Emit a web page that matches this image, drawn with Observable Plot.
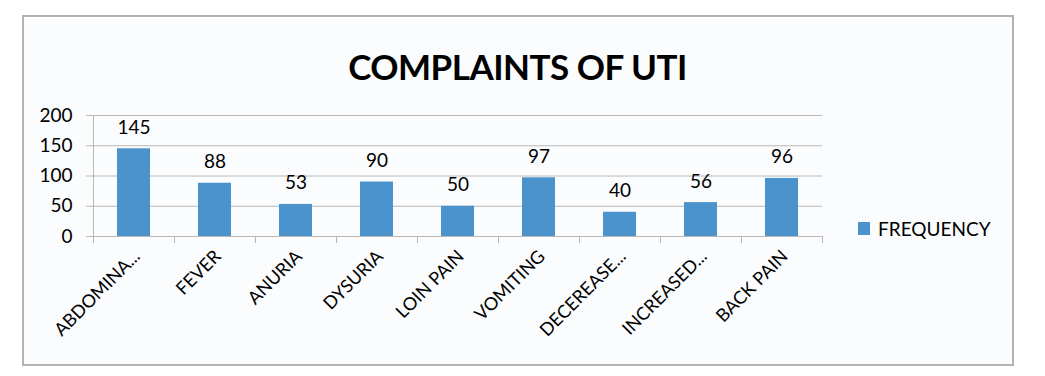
<!DOCTYPE html>
<html>
<head>
<meta charset="utf-8">
<script src="https://cdn.jsdelivr.net/npm/d3@7"></script>
<script src="https://cdn.jsdelivr.net/npm/@observablehq/plot@0.6"></script>
<style>
  body { margin: 0; background: #ffffff; }
  #wrap { position: relative; width: 1045px; height: 376px; overflow: hidden; font-family: Lato, "Open Sans", sans-serif; }
  #box { position: absolute; left: 22px; top: 15px; width: 988px; height: 347px; border: 2px solid #b3b3b3; background: #fbfcfe; }
  #title { position: absolute; left: 0; top: 46px; width: 1035px; text-align: center; font-size: 35px; font-weight: 700; line-height: 40px; color: #000; letter-spacing: -0.5px; }
  #chart { position: absolute; left: 0; top: 95px; }
  #legend { position: absolute; left: 858px; top: 217px; display: flex; align-items: center; font-size: 19px; color: #000; }
  #legend .sw { width: 12px; height: 13px; background: #4a93cd; margin-right: 8px; }
</style>
</head>
<body>
<div id="wrap">
  <div id="box"></div>
  <div id="title">COMPLAINTS OF UTI</div>
  <div id="chart"></div>
  <div id="legend"><div class="sw"></div><span id="legtext"></span></div>
</div>
<script>
const categories = ["ABDOMINA...", "FEVER", "ANURIA", "DYSURIA", "LOIN PAIN", "VOMITING", "DECEREASE...", "INCREASED...", "BACK PAIN"];
const frequency = [145, 88, 53, 90, 50, 97, 40, 56, 96];
const yTicks = [0, 50, 100, 150, 200];
const seriesName = "FREQUENCY";

const data = categories.map((c, i) => ({category: c, value: frequency[i]}));

const W = 1045, H = 268;
const mL = 93, mR = 223, mT = 20, mB = 127;
const step = (W - mL - mR) / categories.length;
const innerH = H - mT - mB;
const barColor = "#4a93cd";
const gridColor = "#b8b8b8";

const chart = Plot.plot({
  width: W,
  height: H,
  marginLeft: mL,
  marginRight: mR,
  marginTop: mT,
  marginBottom: mB,
  style: {background: "transparent", fontFamily: "Lato, 'Open Sans', sans-serif", fontSize: "18px", color: "#000"},
  x: {domain: categories, paddingInner: 0.59, paddingOuter: 0.295, label: null},
  y: {domain: [0, 200], label: null},
  marks: [
    Plot.gridY(yTicks, {stroke: gridColor, strokeOpacity: 1}),
    Plot.axisY(yTicks, {tickSize: 7, tickPadding: 14, stroke: gridColor, strokeOpacity: 1, fontSize: 19, label: null}),
    Plot.frame({anchor: "left", stroke: gridColor}),
    Plot.barY(data, {x: "category", y: "value", fill: barColor}),
    Plot.ruleY([0], {stroke: gridColor}),
    Plot.ruleX(categories, {x: d => d, dx: -step / 2, insetTop: innerH, insetBottom: -7, stroke: gridColor}),
    Plot.ruleX(categories.slice(-1), {x: d => d, dx: step / 2, insetTop: innerH, insetBottom: -7, stroke: gridColor}),
    Plot.text(data, {x: "category", y: "value", text: d => String(d.value), dy: -15, lineAnchor: "bottom", fontSize: 19}),
    Plot.axisX({tickRotate: -45, tickSize: 0, tickPadding: 17, dx: 3, fontSize: 18, label: null})
  ]
});
document.getElementById("chart").appendChild(chart);
document.getElementById("legtext").textContent = seriesName;
</script>
</body>
</html>
